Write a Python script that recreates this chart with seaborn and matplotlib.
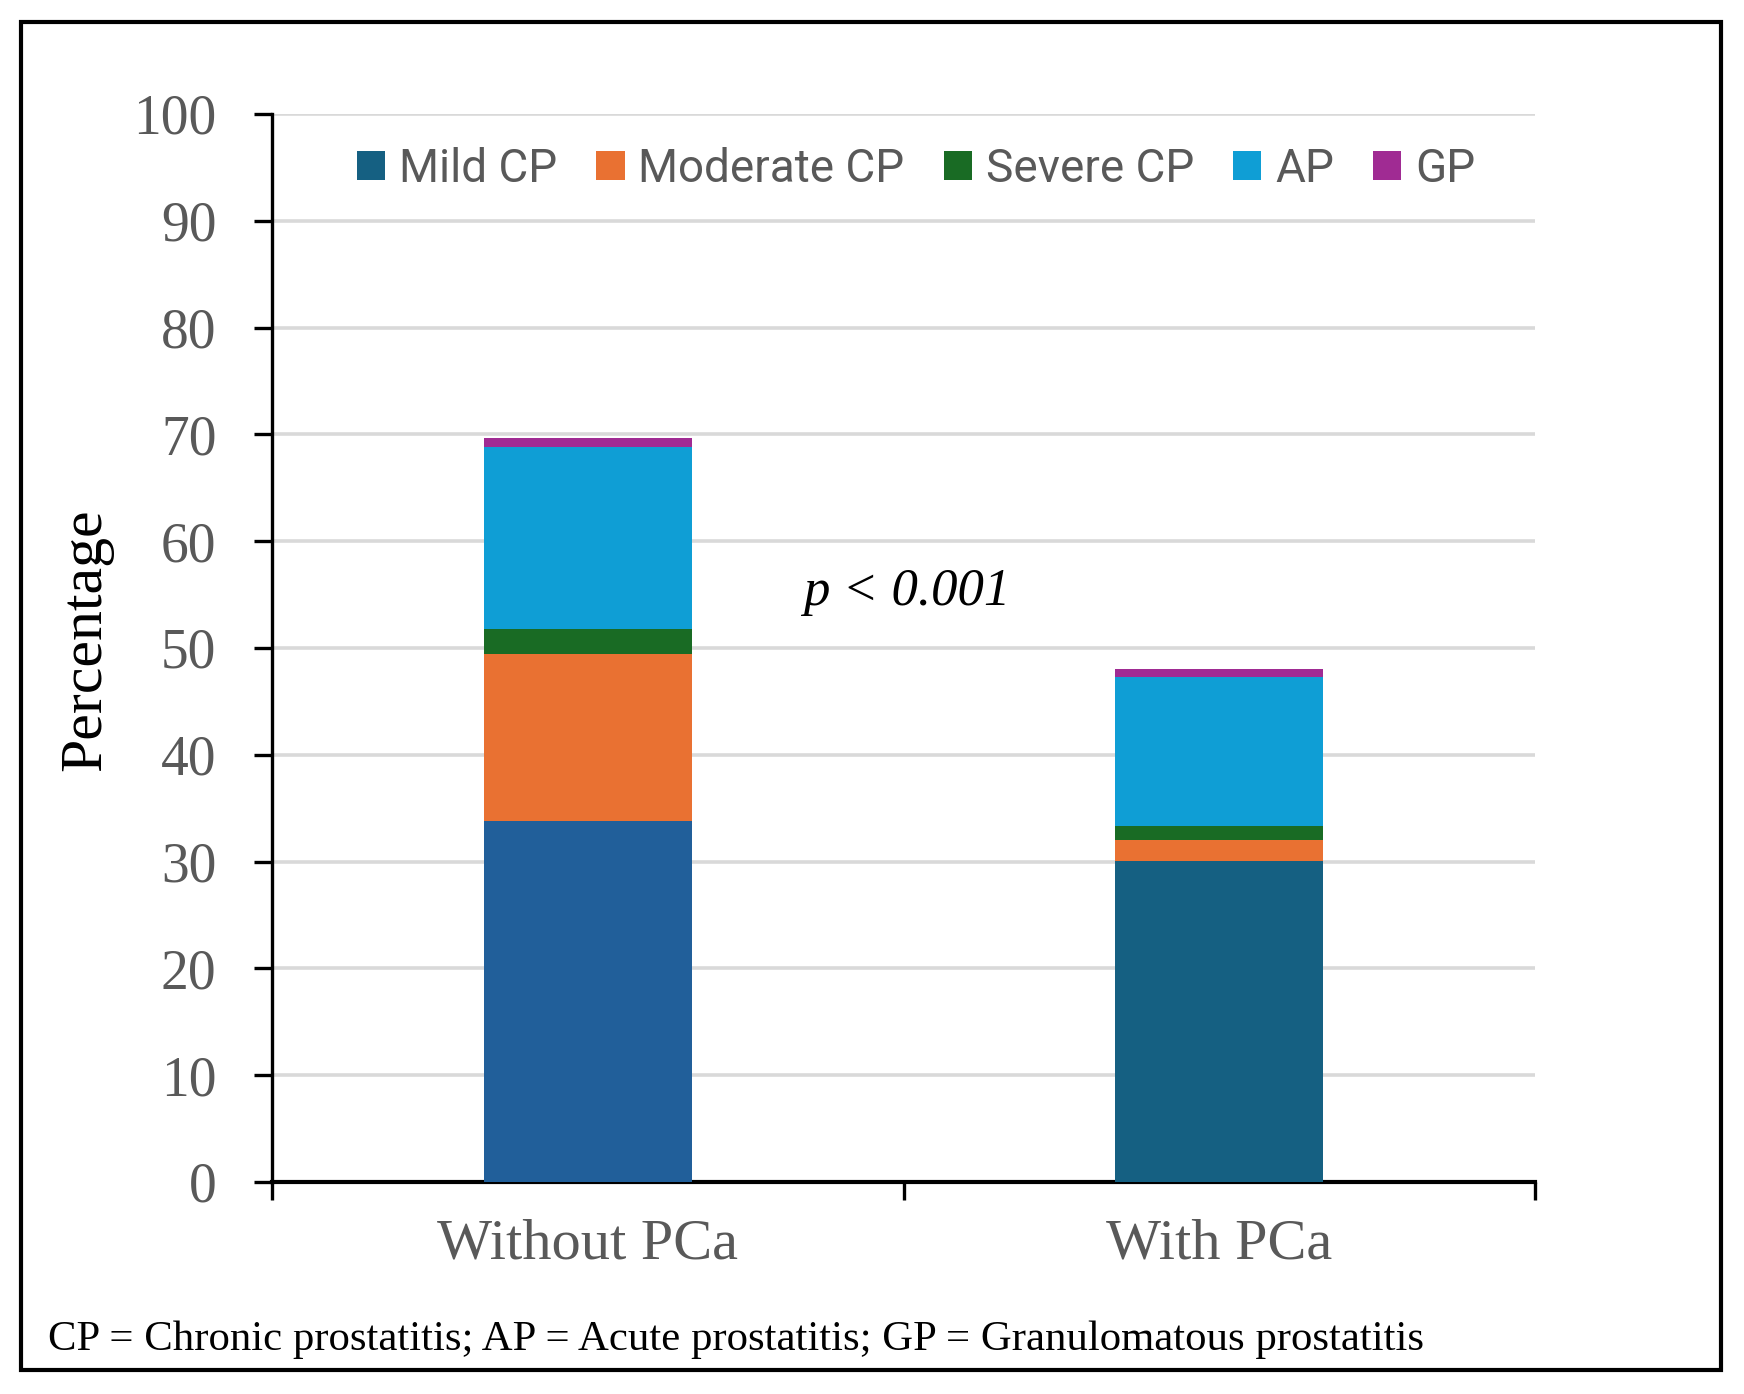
import matplotlib
matplotlib.use("Agg")
import matplotlib.pyplot as plt
import seaborn as sns
import pandas as pd
import numpy as np
from matplotlib.patches import Patch, Rectangle

# ---- data ----
groups = ["Without PCa", "With PCa"]
series = ["Mild CP", "Moderate CP", "Severe CP", "AP", "GP"]
mild_cp = [33.8, 30.1]
moderate_cp = [15.6, 1.9]
severe_cp = [2.4, 1.3]
ap = [17.05, 14.0]
gp = [0.85, 0.75]
y_ticks = [0, 10, 20, 30, 40, 50, 60, 70, 80, 90, 100]
footnote = "CP = Chronic prostatitis; AP = Acute prostatitis; GP = Granulomatous prostatitis"
p_text = "p < 0.001"

# ---- colours ----
legend_colors = ["#156082", "#E97132", "#196B24", "#0F9ED5", "#A02B93"]
mild_bar_colors = ["#215F9A", "#156082"]

sns.set_theme(style="white")
plt.rcParams["font.family"] = ["Liberation Serif", "DejaVu Serif"]

fig = plt.figure(figsize=(17.44, 13.94), dpi=100)
ax = fig.add_axes([272 / 1744, 1 - 1182 / 1394, (1535 - 272) / 1744, (1182 - 114) / 1394])

values = [mild_cp, moderate_cp, severe_cp, ap, gp]
cum = np.cumsum(np.array(values), axis=0)

df_rows = []
for i, s in enumerate(series):
    for j, g in enumerate(groups):
        df_rows.append({"Series": s, "Group": g, "cum": cum[i, j]})
df = pd.DataFrame(df_rows)

# draw from the top segment down so that each layer covers the one above
for i in reversed(range(len(series))):
    sub = df[df["Series"] == series[i]]
    if i == 0:
        pal = mild_bar_colors
    else:
        pal = [legend_colors[i]] * 2
    sns.barplot(data=sub, x="Group", y="cum", hue="Group", palette=pal,
                order=groups, hue_order=groups, dodge=False, legend=False,
                width=0.33, ax=ax, linewidth=0, saturation=1, zorder=3)

ax.set_xlim(-0.5, 1.5)
ax.set_ylim(0, 100)
ax.set_yticks(y_ticks)
ax.set_yticklabels([str(t) for t in y_ticks])
ax.yaxis.grid(True, color="#D9D9D9", linewidth=2.6, zorder=0)
ax.xaxis.grid(False)
ax.set_axisbelow(True)

for side in ["top", "right"]:
    ax.spines[side].set_visible(False)
ax.spines["left"].set_color("black")
ax.spines["left"].set_linewidth(2.4)
ax.spines["bottom"].set_color("black")
ax.spines["bottom"].set_linewidth(3.0)

ax.tick_params(axis="y", which="both", left=True, length=13, width=2.4,
               color="black", labelsize=40, labelcolor="#595959", pad=27)
# x category labels without ticks; boundary ticks drawn as minor ticks
ax.set_xticks([0, 1])
ax.set_xticklabels(groups)
ax.tick_params(axis="x", which="major", bottom=False, labelsize=42,
               labelcolor="#595959", pad=20)
ax.set_xticks([-0.5, 0.5, 1.5], minor=True)
ax.tick_params(axis="x", which="minor", bottom=True, length=13, width=2.4,
               color="black", direction="out")
ax.set_xlabel("")
ax.set_ylabel("Percentage", fontsize=43, color="black")
ax.yaxis.set_label_coords(-0.126, 0.508)

ax.text(0.505, 54.0, p_text, fontsize=38, style="italic", color="black",
        ha="center", va="baseline", zorder=5)

handles = [Patch(facecolor=c, edgecolor="none") for c in legend_colors]
ax.legend(handles, series, loc="upper center", bbox_to_anchor=(0.51, 1.008),
          ncol=5, frameon=False, handlelength=0.62, handleheight=0.62,
          handletextpad=0.3, columnspacing=0.85,
          prop={"family": ["Roboto", "DejaVu Sans"], "size": 33},
          labelcolor="#595959")

fig.text(48 / 1744, 1 - 1340 / 1394, footnote, fontsize=30.8, color="black",
         ha="left", va="center")

fig.patches.append(Rectangle((21 / 1744, 1 - 1370 / 1394), (1721 - 21) / 1744,
                             (1370 - 22) / 1394, transform=fig.transFigure,
                             fill=False, edgecolor="black", linewidth=3.0,
                             zorder=10))

fig.savefig("out.png", dpi=100, facecolor="white")
